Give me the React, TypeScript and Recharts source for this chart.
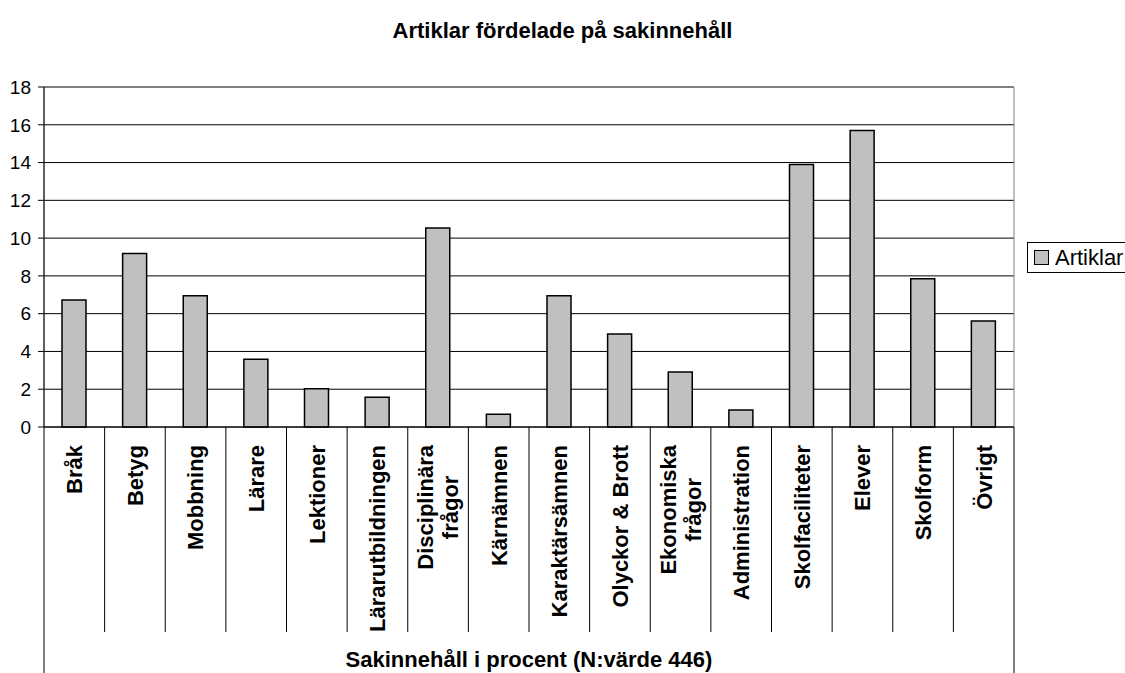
import React from "react";
import {
  Bar,
  BarChart,
  CartesianGrid,
  Legend,
  ReferenceArea,
  XAxis,
  YAxis,
} from "recharts";

const FONT = '"Liberation Sans", Arial, sans-serif';

// sakinnehåll, andel i procent av 446 artiklar
const CATEGORIES = [
  "Bråk",
  "Betyg",
  "Mobbning",
  "Lärare",
  "Lektioner",
  "Lärarutbildningen",
  "Disciplinära\nfrågor",
  "Kärnämnen",
  "Karaktärsämnen",
  "Olyckor & Brott",
  "Ekonomiska\nfrågor",
  "Administration",
  "Skolfaciliteter",
  "Elever",
  "Skolform",
  "Övrigt",
];
const ARTIKLAR = [6.73, 9.19, 6.95, 3.59, 2.02, 1.57, 10.54, 0.67, 6.95, 4.93, 2.91, 0.9, 13.9, 15.7, 7.85, 5.61];
const Y_TICKS = [0, 2, 4, 6, 8, 10, 12, 14, 16, 18];

const data = CATEGORIES.map((name, i) => ({ name, Artiklar: ARTIKLAR[i] }));

let measureCtx: CanvasRenderingContext2D | null = null;
function textWidth(s: string) {
  if (!measureCtx) {
    measureCtx = document.createElement("canvas").getContext("2d");
    if (measureCtx) measureCtx.font = `bold 22px ${FONT}`;
  }
  return measureCtx ? measureCtx.measureText(s).width : s.length * 12;
}

function CategoryTick(props: any) {
  const { x, y, payload, index, width } = props;
  const half = payload?.offset || width / CATEGORIES.length / 2;
  const lines = String(payload.value).split("\n");
  const maxW = Math.max(...lines.map(textWidth));
  const last = index === CATEGORIES.length - 1;
  return (
    <g>
      {index === 0 && <line x1={x - half} x2={x - half} y1={y} y2={y + 246} stroke="#000" />}
      <line x1={x + half} x2={x + half} y1={y} y2={y + (last ? 246 : 205)} stroke="#000" />
      <g transform={`translate(${x},${y + 18}) rotate(-90)`}>
        {lines.map((l, i) => (
          <text
            key={i}
            x={-maxW / 2}
            y={(i - (lines.length - 1) / 2) * 25}
            dy="0.36em"
            textAnchor="middle"
            fontFamily={FONT}
            fontSize={22}
            fontWeight="bold"
            fill="#000"
          >
            {l}
          </text>
        ))}
      </g>
    </g>
  );
}

function LegendBox() {
  return (
    <div
      style={{
        display: "flex",
        alignItems: "center",
        border: "1px solid #000",
        height: 31,
        width: 120,
        paddingLeft: 6,
        boxSizing: "border-box",
        background: "#fff",
        fontFamily: FONT,
        fontSize: 22,
        color: "#000",
      }}
    >
      <span
        style={{
          display: "inline-block",
          width: 13,
          height: 13,
          background: "#c0c0c0",
          border: "1px solid #000",
          marginRight: 6,
        }}
      />
      Artiklar
    </div>
  );
}

export default function App() {
  return (
    <div style={{ position: "absolute", left: 0, top: 0, width: 1125, height: 673, background: "#fff", overflow: "hidden" }}>
      <div
        style={{
          position: "absolute",
          left: 0,
          top: 19,
          width: 1125,
          textAlign: "center",
          fontFamily: FONT,
          fontWeight: "bold",
          fontSize: 22,
          lineHeight: "24px",
          color: "#000",
        }}
      >
        Artiklar fördelade på sakinnehåll
      </div>
      <BarChart width={1125} height={673} data={data} margin={{ top: 87, right: 111, bottom: 0, left: 0 }}>
        <CartesianGrid vertical={false} stroke="#000" />
        <ReferenceArea y1={0} y2={18} stroke="#808080" fill="none" />
        <YAxis
          domain={[0, 18]}
          ticks={Y_TICKS}
          width={44}
          axisLine={{ stroke: "#000" }}
          tickLine={{ stroke: "#000" }}
          tickSize={6}
          tickMargin={7}
          tick={{ fill: "#000", fontSize: 19, fontFamily: FONT }}
          interval={0}
        />
        <XAxis
          dataKey="name"
          height={246}
          interval={0}
          axisLine={{ stroke: "#000" }}
          tickLine={false}
          tickSize={0}
          tickMargin={0}
          tick={<CategoryTick />}
          label={{
            value: "Sakinnehåll i procent (N:värde 446)",
            position: "insideBottom",
            offset: 6,
            fill: "#000",
            fontSize: 22,
            fontWeight: "bold",
            fontFamily: FONT,
          }}
        />
        <Legend
          layout="horizontal"
          align="center"
          verticalAlign="middle"
          content={<LegendBox />}
          wrapperStyle={{ left: 1027, top: 242, width: 120 }}
        />
        <Bar dataKey="Artiklar" fill="#c0c0c0" stroke="#000" strokeWidth={1.5} barSize={24} isAnimationActive={false} />
      </BarChart>
    </div>
  );
}
